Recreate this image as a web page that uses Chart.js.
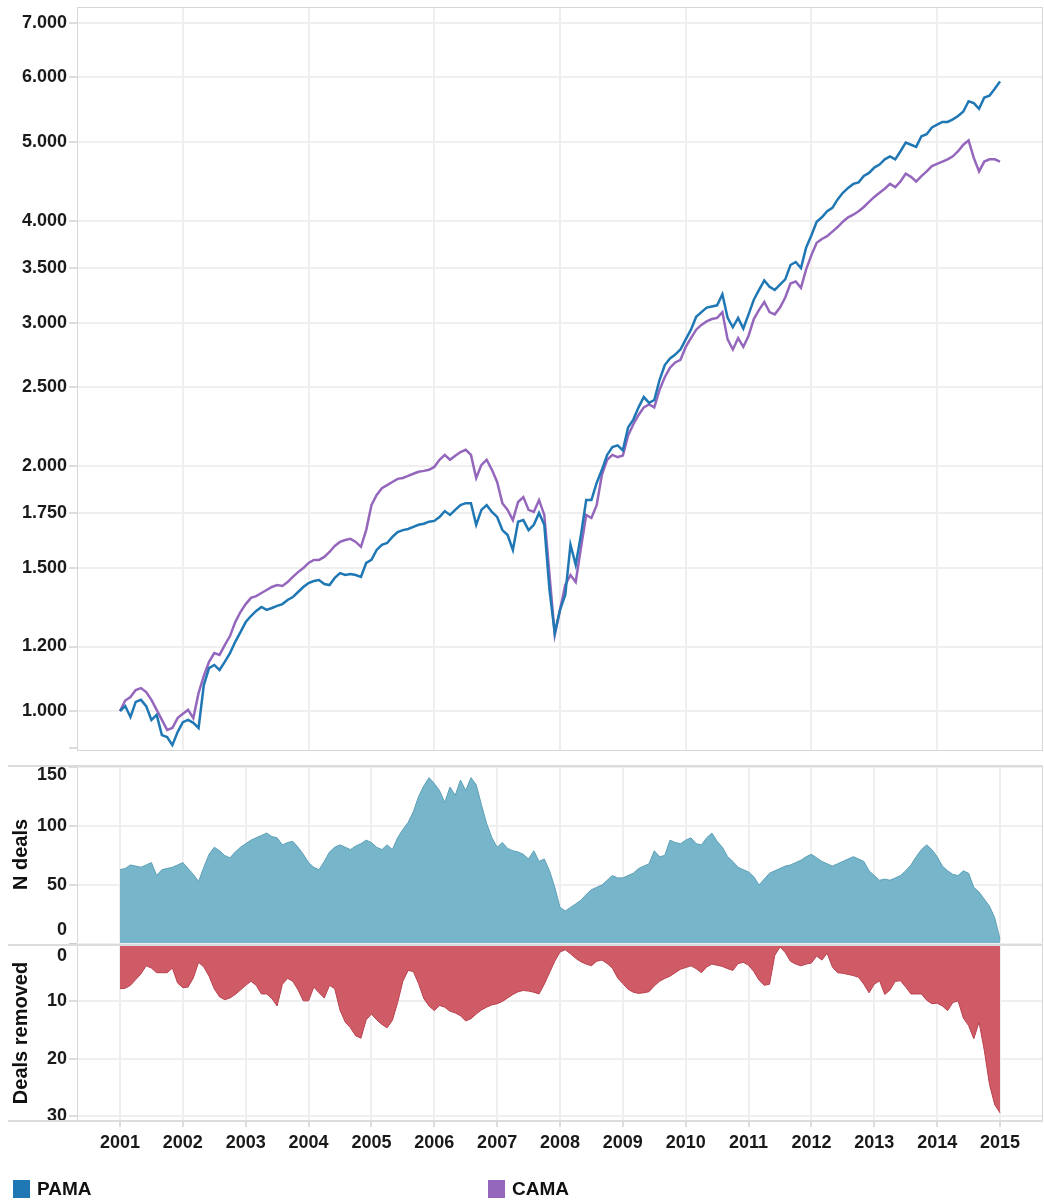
<!DOCTYPE html>
<html>
<head>
<meta charset="utf-8">
<title>PAMA vs CAMA</title>
<script src="https://cdn.jsdelivr.net/npm/chart.js@4.4.1/dist/chart.umd.min.js"></script>
<style>
  body { margin: 0; background: #fff; }
  #wrap { position: relative; width: 1044px; height: 1202px; }
  canvas { position: absolute; left: 0; }
  #legend { position: absolute; top: 1179px; left: 0; width: 1044px; height: 20px;
            font: bold 19px 'Liberation Sans', Arial, sans-serif; color: #111; }
  .item { position: absolute; top: 0; display: flex; align-items: center; line-height: 20px; }
  .swatch { display: inline-block; width: 17px; height: 18px; margin-right: 7px; }
</style>
</head>
<body>
<div id="wrap">
  <canvas id="priceChart" width="1044" height="760" style="top:0"></canvas>
  <canvas id="dealsChart" width="1044" height="196" style="top:754px"></canvas>
  <canvas id="removedChart" width="1044" height="232" style="top:938px"></canvas>
  <div id="legend"></div>
</div>
<script>
// monthly observations, Jan 2001 .. Jan 2015
const months = Array.from({ length: 169 }, (_, i) => 2001 + i / 12);

const years = [2001, 2002, 2003, 2004, 2005, 2006, 2007, 2008, 2009, 2010, 2011, 2012, 2013, 2014, 2015];
const evenYears = [2002, 2004, 2006, 2008, 2010, 2012, 2014];
const priceTicks = [900, 1000, 1200, 1500, 1750, 2000, 2500, 3000, 3500, 4000, 5000, 6000, 7000];
const dealTicks = [0, 50, 100, 150];
const removedTicks = [0, 10, 20, 30];

const pama = [
  1000, 1014, 983, 1026, 1032, 1014, 975, 989, 934, 929, 908, 942,
  969, 975, 967, 953, 1076, 1129, 1139, 1123, 1149, 1178, 1216, 1250,
  1286, 1308, 1327, 1342, 1331, 1338, 1346, 1353, 1369, 1380, 1400, 1420,
  1436, 1444, 1448, 1432, 1428, 1457, 1477, 1469, 1473, 1469, 1461, 1520,
  1533, 1577, 1600, 1608, 1636, 1659, 1668, 1673, 1683, 1693, 1698, 1708,
  1712, 1731, 1760, 1741, 1766, 1790, 1800, 1800, 1693, 1766, 1790, 1756,
  1731, 1668, 1645, 1577, 1708, 1716, 1668, 1693, 1751, 1693, 1408, 1247,
  1331, 1388, 1600, 1512, 1645, 1816, 1816, 1906, 1978, 2063, 2110, 2120,
  2090, 2230, 2280, 2360, 2430, 2390, 2410, 2550, 2660, 2710, 2740, 2780,
  2860, 2940, 3050, 3090, 3130, 3140, 3150, 3250, 3040, 2960, 3040, 2950,
  3070, 3200, 3290, 3380, 3320, 3290, 3340, 3390, 3530, 3560, 3500, 3710,
  3840, 3990, 4040, 4110, 4150, 4250, 4330, 4390, 4440, 4460, 4540, 4580,
  4650, 4690, 4760, 4800, 4760, 4870, 4990, 4960, 4930, 5080, 5110, 5210,
  5250, 5290, 5290, 5330, 5380, 5450, 5610, 5580, 5490, 5670, 5700, 5810,
  5930
];

const cama = [
  1000, 1030, 1040, 1061, 1067, 1055, 1032, 1003, 975, 948, 953, 980,
  992, 1003, 980, 1052, 1104, 1149, 1178, 1172, 1205, 1236, 1286, 1323,
  1353, 1377, 1384, 1396, 1408, 1420, 1428, 1424, 1440, 1461, 1481, 1498,
  1520, 1533, 1533, 1546, 1568, 1595, 1613, 1622, 1627, 1613, 1591, 1668,
  1790, 1842, 1878, 1894, 1911, 1928, 1933, 1944, 1956, 1967, 1972, 1978,
  1994, 2035, 2063, 2035, 2058, 2080, 2093, 2063, 1933, 2006, 2035, 1978,
  1911, 1800, 1766, 1716, 1806, 1831, 1766, 1756, 1816, 1741, 1469, 1240,
  1331, 1428, 1469, 1440, 1586, 1741, 1726, 1790, 1950, 2035, 2063, 2050,
  2060, 2180, 2250, 2310, 2360, 2380, 2360, 2480, 2570, 2640, 2680, 2700,
  2800, 2870, 2940, 2980, 3010, 3030, 3040, 3090, 2860, 2780, 2870, 2800,
  2890, 3030, 3110, 3180, 3090, 3070, 3130, 3220, 3350, 3370, 3310, 3490,
  3630, 3760, 3800, 3830, 3880, 3930, 3990, 4040, 4070, 4110, 4160, 4220,
  4280, 4330, 4380, 4440, 4400, 4470, 4570, 4530, 4470, 4540, 4600, 4670,
  4700, 4730, 4760, 4800, 4870, 4960, 5020, 4780, 4600, 4730, 4760, 4760,
  4730
];

const nDeals = [
  63, 64, 67, 66, 65, 67, 69, 58, 63, 64, 65, 67,
  69, 64, 59, 53, 65, 76, 82, 79, 75, 73, 78, 82,
  85, 88, 90, 92, 94, 91, 90, 84, 86, 87, 82, 76,
  69, 65, 63, 70, 78, 82, 84, 82, 80, 83, 85, 88,
  86, 82, 80, 84, 80, 90, 97, 103, 112, 125, 134, 141,
  136, 130, 120, 133, 126, 139, 130, 141, 135, 118, 102, 90,
  82, 86, 81, 79, 78, 76, 72, 79, 70, 72, 62, 48,
  31, 28, 31, 34, 37, 42, 46, 48, 50, 54, 58, 56,
  56, 58, 60, 64, 66, 68, 79, 74, 75, 88, 86, 85,
  88, 90, 85, 84, 90, 94, 87, 82, 74, 70, 65, 63,
  61, 57, 50, 55, 60, 62, 64, 66, 67, 69, 71, 74,
  76, 73, 70, 68, 66, 68, 70, 72, 74, 72, 70, 62,
  58, 54, 55, 54, 56, 58, 62, 67, 74, 80, 84, 80,
  74, 66, 62, 59, 58, 62, 60, 48, 44, 38, 32, 22,
  4
];

const dealsRemoved = [
  7.8, 7.7, 7.2, 6.2, 5.2, 3.8, 4.2, 5.0, 5.0, 5.0, 4.2, 6.8,
  7.6, 7.5, 5.9, 3.2, 4.0, 5.6, 7.8, 9.2, 9.7, 9.4, 8.8, 8.0,
  7.2, 6.5, 7.2, 8.7, 8.7, 9.5, 10.8, 7.0, 6.0, 6.5, 8.0, 9.9,
  9.9, 7.5, 8.5, 9.4, 7.2, 7.8, 11.5, 13.6, 14.6, 16.0, 16.4, 13.2,
  12.2, 13.2, 14.0, 14.6, 13.3, 10.2, 6.5, 4.6, 4.8, 6.9, 9.5, 10.8,
  11.6, 10.7, 11.0, 11.7, 12.0, 12.5, 13.4, 13.0, 12.2, 11.5, 11.0, 10.6,
  10.4, 10.0, 9.4, 8.8, 8.3, 8.1, 8.2, 8.4, 8.7, 7.0, 5.0, 3.0,
  1.4, 1.0, 1.7, 2.5, 3.1, 3.5, 3.8, 3.0, 2.8, 3.4, 4.2, 5.9,
  6.9, 7.9, 8.4, 8.6, 8.5, 8.3, 7.3, 6.5, 6.0, 5.6, 5.0, 4.4,
  4.1, 3.8, 4.3, 5.0, 4.0, 3.5, 3.7, 3.9, 4.3, 4.6, 3.4, 3.2,
  3.7, 4.8, 6.3, 7.2, 7.0, 2.0, 0.5, 1.5, 3.0, 3.5, 3.8, 3.5,
  3.3, 2.1, 2.8, 1.6, 4.0, 5.0, 5.1, 5.3, 5.5, 5.8, 7.0, 8.5,
  7.0, 6.4, 8.8, 8.0, 6.5, 6.4, 7.5, 8.7, 8.7, 8.7, 9.8, 10.4,
  10.3, 10.8, 11.6, 10.2, 9.9, 12.9, 14.2, 16.5, 13.6, 18.5, 24.5, 28.0,
  29.4
];

const xMin = 2000.316, xMax = 2015.684;

const tickFont = { family: "'Liberation Sans', Arial, sans-serif", size: 18, weight: 'bold' };
const titleFont = { family: "'Liberation Sans', Arial, sans-serif", size: 20, weight: 'bold' };
const gridColor = '#efefef';
const inkColor = '#1a1a1a';

function toPoints(values) {
  return values.map((v, i) => ({ x: months[i], y: v }));
}

function tickValue(c) {
  return c.tick ? c.tick.value : null;
}

// keep the plot box where the layout padding puts it
function noLabelPadding(s) {
  s.paddingTop = 0;
  s.paddingBottom = 0;
  s.paddingLeft = 0;
  s.paddingRight = 0;
}

// light frame round each plot; `rules` stretch panel edges out to the page margin
const framePlugin = {
  id: 'frame',
  afterDraw(chart, args, opts) {
    const { ctx, chartArea: a } = chart;
    ctx.save();
    ctx.strokeStyle = '#d6d6d6';
    ctx.lineWidth = 1;
    ctx.strokeRect(a.left + 0.5, a.top + 0.5, a.right - a.left - 1, a.bottom - a.top - 1);
    ctx.lineWidth = 2;
    ctx.strokeStyle = '#dcdcdc';
    (opts.rules || []).forEach(side => {
      const y = side === 'top' ? a.top + 1 : a.bottom - 1;
      ctx.beginPath();
      ctx.moveTo(8, y);
      ctx.lineTo(a.right, y);
      ctx.stroke();
    });
    ctx.restore();
  }
};

function xAxis(ticks, showLabels) {
  return {
    type: 'linear',
    min: xMin,
    max: xMax,
    afterBuildTicks: s => { s.ticks = ticks.map(v => ({ value: v })); },
    ticks: {
      display: showLabels,
      autoSkip: false,
      maxRotation: 0,
      padding: 5,
      font: tickFont,
      color: inkColor,
      callback: v => String(v)
    },
    grid: { color: gridColor, lineWidth: 2, drawTicks: showLabels, tickLength: 5, tickColor: '#bbb', tickWidth: 1 },
    border: { display: false },
    afterFit: s => { s.height = showLabels ? 34 : 0; noLabelPadding(s); }
  };
}

function yGrid() {
  return { color: gridColor, lineWidth: 2, tickLength: 8, tickColor: '#bbb', tickWidth: 1 };
}

const baseOptions = {
  responsive: false,
  animation: false,
  events: [],
  plugins: { legend: { display: false }, tooltip: { enabled: false } }
};

// top panel: cumulative value of both portfolios, log scale
const priceChart = new Chart(document.getElementById('priceChart'), {
  type: 'line',
  data: {
    datasets: [
      { label: 'PAMA', data: toPoints(pama), borderColor: '#1f77b4', backgroundColor: '#1f77b4',
        borderWidth: 2.5, pointRadius: 0 },
      { label: 'CAMA', data: toPoints(cama), borderColor: '#9467bd', backgroundColor: '#9467bd',
        borderWidth: 2.5, pointRadius: 0 }
    ]
  },
  options: {
    ...baseOptions,
    layout: { padding: { top: 7, right: 1, bottom: 9, left: 0 } },
    scales: {
      x: xAxis(evenYears, false),
      y: {
        type: 'logarithmic',
        min: 893,
        max: 7323,
        afterBuildTicks: s => { s.ticks = priceTicks.map(v => ({ value: v })); },
        ticks: {
          autoSkip: false,
          padding: 2,
          font: tickFont,
          color: inkColor,
          callback: v => (v === 900 ? '' : (v / 1000).toFixed(3))
        },
        grid: {
          ...yGrid(),
          color: c => (tickValue(c) === 900 ? 'rgba(0,0,0,0)' : gridColor)
        },
        border: { display: false },
        afterFit: s => { s.width = 77; noLabelPadding(s); }
      }
    },
    plugins: { ...baseOptions.plugins, frame: { rules: [] } }
  },
  plugins: [framePlugin]
});

// middle panel: number of deals held
new Chart(document.getElementById('dealsChart'), {
  type: 'line',
  data: {
    datasets: [{
      label: 'N deals', data: toPoints(nDeals), fill: 'origin',
      backgroundColor: 'rgba(112,177,199,0.95)', borderColor: '#5c9fb6', borderWidth: 1, pointRadius: 0
    }]
  },
  options: {
    ...baseOptions,
    layout: { padding: { top: 11, right: 1, bottom: 6, left: 0 } },
    scales: {
      x: xAxis(years, false),
      y: {
        min: 0,
        max: 151.7,
        afterBuildTicks: s => { s.ticks = dealTicks.map(v => ({ value: v })); },
        ticks: {
          autoSkip: false,
          padding: 2,
          color: inkColor,
          // edge labels are nudged inside the panel
          font: c => ({ ...tickFont, lineHeight: tickValue(c) === 0 ? 28 / 18 : tickValue(c) === 150 ? 16 / 18 : 1.2 }),
          callback: v => (v === 0 ? ['0', ''] : v === 150 ? ['', '150'] : String(v))
        },
        grid: yGrid(),
        border: { display: false },
        title: { display: true, text: 'N deals', font: titleFont, color: '#111', padding: { top: 9, bottom: 0 } },
        afterFit: s => { s.width = 77; noLabelPadding(s); }
      }
    },
    plugins: { ...baseOptions.plugins, frame: { rules: ['top'] } }
  },
  plugins: [framePlugin]
});

// bottom panel: deals dropped, drawn downward
new Chart(document.getElementById('removedChart'), {
  type: 'line',
  data: {
    datasets: [{
      label: 'Deals removed', data: toPoints(dealsRemoved), fill: 'origin',
      backgroundColor: 'rgba(203,82,94,0.95)', borderColor: '#b9404d', borderWidth: 1, pointRadius: 0
    }]
  },
  options: {
    ...baseOptions,
    layout: { padding: { top: 6, right: 1, bottom: 14, left: 0 } },
    scales: {
      x: xAxis(years, true),
      y: {
        reverse: true,
        min: 0,
        max: 31,
        afterBuildTicks: s => { s.ticks = removedTicks.map(v => ({ value: v })); },
        ticks: {
          autoSkip: false,
          padding: 2,
          color: inkColor,
          font: c => ({ ...tickFont, lineHeight: tickValue(c) === 0 ? 24 / 18 : 1.2 }),
          callback: v => (v === 0 ? ['', '0'] : String(v))
        },
        grid: yGrid(),
        border: { display: false },
        title: { display: true, text: 'Deals removed', font: titleFont, color: '#111', padding: { top: 9, bottom: 0 } },
        afterFit: s => { s.width = 77; noLabelPadding(s); }
      }
    },
    plugins: { ...baseOptions.plugins, frame: { rules: ['top', 'bottom'] } }
  },
  plugins: [framePlugin]
});

// legend under the panels, built from the price series
const legend = document.getElementById('legend');
priceChart.data.datasets.forEach((ds, i) => {
  const item = document.createElement('div');
  item.className = 'item';
  item.style.left = (13 + i * 475) + 'px';
  const swatch = document.createElement('span');
  swatch.className = 'swatch';
  swatch.style.background = ds.borderColor;
  item.appendChild(swatch);
  item.appendChild(document.createTextNode(ds.label));
  legend.appendChild(item);
});
</script>
</body>
</html>
